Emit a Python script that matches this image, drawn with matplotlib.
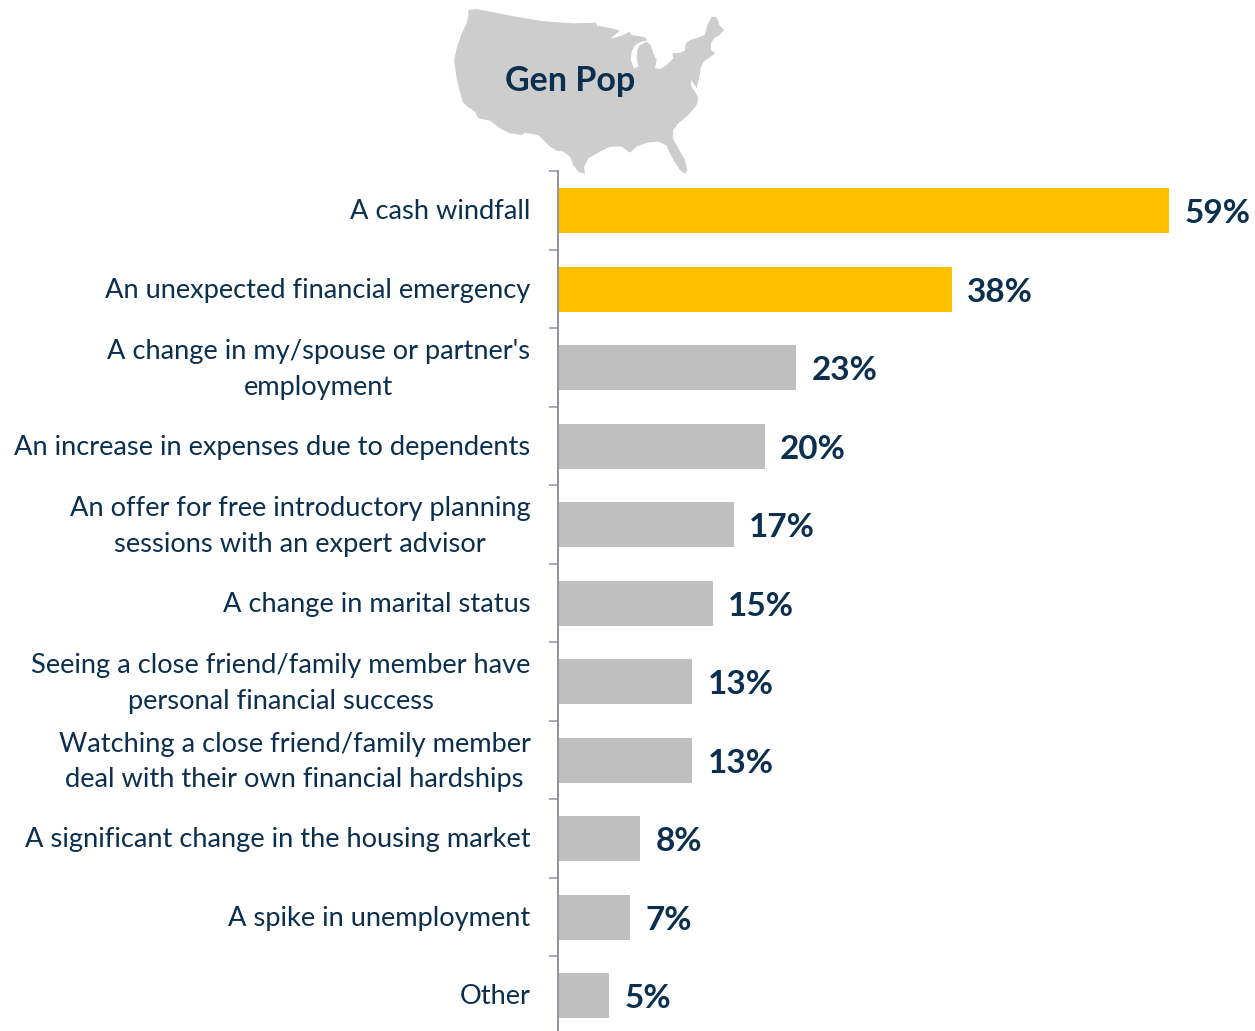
"""Gen Pop horizontal bar chart with a US silhouette on top."""
import matplotlib
matplotlib.use("Agg")
import matplotlib.pyplot as plt
from matplotlib.patches import Polygon
from matplotlib.transforms import ScaledTranslation
import numpy as np

W, H = 1255, 1031

labels = [
    "A cash windfall",
    "An unexpected financial emergency",
    "A change in my/spouse or partner's\nemployment",
    "An increase in expenses due to dependents",
    "An offer for free introductory planning\nsessions with an expert advisor",
    "A change in marital status",
    "Seeing a close friend/family member have\npersonal financial success",
    "Watching a close friend/family member\ndeal with their own financial hardships",
    "A significant change in the housing market",
    "A spike in unemployment",
    "Other",
]
values = [59, 38, 23, 20, 17, 15, 13, 13, 8, 7, 5]
highlight = [True, True, False, False, False, False, False, False, False, False, False]

NAVY = "#0B2F4F"
GOLD = "#FFC000"
GREY = "#BFBFBF"
MAP_GREY = "#CDCDCD"
AXIS_GREY = "#8E949C"

map_outline = [
    (85, 30), (110, 27), (150, 35), (200, 45), (250, 54), (300, 62), (350, 67), (400, 70),
    (468, 68), (472, 78), (490, 80), (515, 85), (540, 92), (520, 108), (512, 115), (530, 112),
    (550, 105), (568, 95), (575, 105), (595, 108), (615, 112), (622, 122), (605, 125), (585, 135),
    (575, 155), (572, 180), (582, 205), (595, 200), (590, 175), (592, 150), (600, 135), (620, 125),
    (632, 135), (640, 160), (650, 180), (645, 205), (660, 207), (680, 195), (700, 175), (697, 160),
    (720, 158), (735, 152), (737, 130), (750, 120), (775, 112), (795, 105), (802, 75), (815, 50),
    (830, 52), (838, 75), (852, 90), (838, 105), (822, 115), (813, 130), (812, 150), (826, 160),
    (805, 175), (790, 185), (782, 205), (778, 230), (770, 265), (755, 240), (752, 255), (765, 275),
    (775, 295), (770, 315), (745, 345), (715, 370), (700, 390), (698, 415), (715, 445), (735, 480),
    (742, 510), (735, 522), (720, 510), (700, 480), (685, 450), (680, 437), (655, 425), (620, 428),
    (590, 440), (570, 458), (545, 440), (510, 440), (480, 455), (445, 475), (432, 500), (435, 522),
    (415, 515), (400, 495), (390, 470), (370, 455), (350, 452), (330, 440), (310, 420), (295, 405),
    (255, 398), (245, 405), (210, 400), (180, 385), (150, 362), (115, 355), (105, 335), (80, 318),
    (68, 305), (58, 270), (50, 235), (42, 180), (50, 145), (65, 100), (80, 70), (85, 50),
]

fig = plt.figure(figsize=(W / 100, H / 100), dpi=100, facecolor="white")

# pixel overlay for the map and its caption
ax_map = fig.add_axes([0, 0, 1, 1])
ax_map.set_xlim(0, W)
ax_map.set_ylim(H, 0)
ax_map.axis("off")
outline = np.array(map_outline, dtype=float) / 3 + [440, 0]
ax_map.add_patch(Polygon(outline, closed=True, fc=MAP_GREY, ec="none"))
ax_map.text(570, 81, "Gen Pop", color=NAVY, fontsize=24.5, fontweight="bold", family="Lato",
            ha="center", va="center")

# bars: 0 sits at x=557.5, 10.37 px per percent, rows 78.5 px apart from y=210.5
top_px = 210.5 - 0.5 * 78.5
ax = fig.add_axes([557.5 / W, 0, 1 - 557.5 / W, 1 - top_px / H])
ax.patch.set_alpha(0)
y = np.arange(len(labels))
colors = [GOLD if h else GREY for h in highlight]
ax.barh(y, values, height=45 / 78.5, color=colors, left=0)
ax.set_xlim(0, (W - 557.5) / 10.37)
ax.set_ylim((H - 210.5) / 78.5, -0.5)

for i, v in zip(y, values):
    ax.annotate(f"{v}%", (v, i), xytext=(11, -2.3), textcoords="offset points",
                color=NAVY, fontsize=24, fontweight="bold", family="Lato",
                ha="left", va="center")

for s in ("top", "right", "bottom"):
    ax.spines[s].set_visible(False)
ax.spines["left"].set_color(AXIS_GREY)
ax.spines["left"].set_linewidth(1.4)
ax.set_xticks([])

ax.set_yticks(y)
ax.set_yticklabels(labels, family="Lato", fontsize=19.6, color=NAVY, linespacing=1.52,
                   multialignment="center")
ax.tick_params(axis="y", which="major", length=0, pad=19.5)
ax.set_yticks(y - 0.5, minor=True)
ax.tick_params(axis="y", which="minor", length=6.5, width=1.1, color=AXIS_GREY)

# labels sit a little above the bar centres, wrapped ones a bit more
for lbl, name in zip(ax.get_yticklabels(), labels):
    dy = 4.0 if "\n" in name else 1.0
    lbl.set_transform(lbl.get_transform() + ScaledTranslation(0, dy / 72, fig.dpi_scale_trans))

fig.savefig("out.png", dpi=100)
